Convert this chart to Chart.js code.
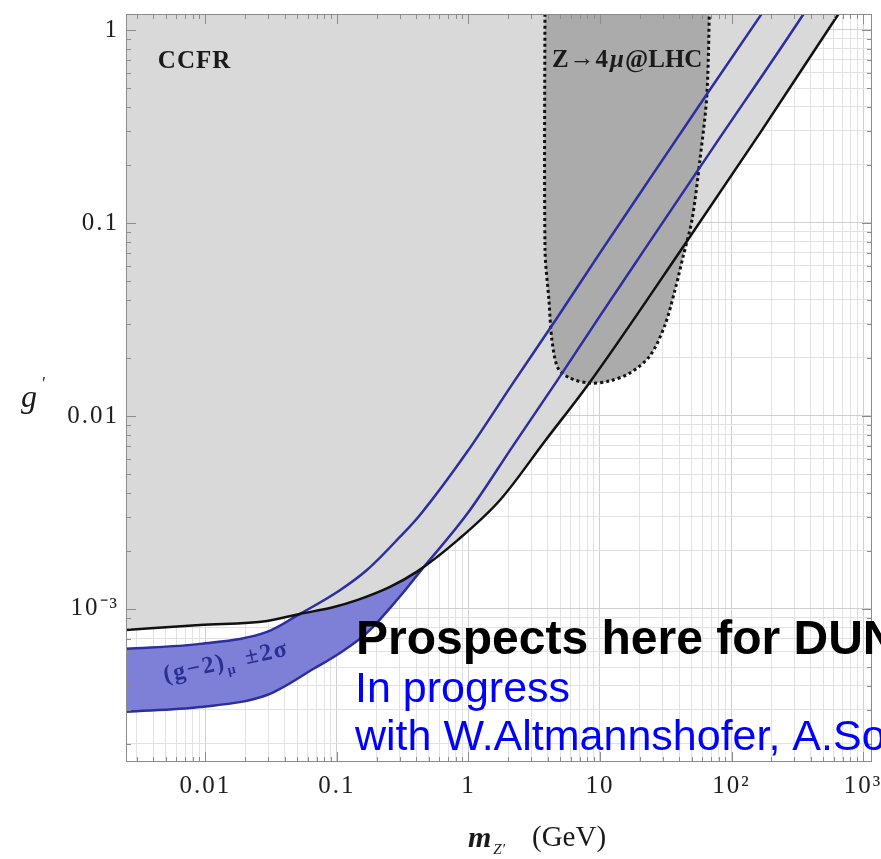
<!DOCTYPE html>
<html><head><meta charset="utf-8">
<script src="https://cdn.jsdelivr.net/npm/chart.js@4.4.1/dist/chart.umd.min.js"></script>
<style>html,body{margin:0;padding:0;background:#fff;}#wrap{width:881px;height:859px;}</style>
</head><body><div id="wrap"><canvas id="c" width="881" height="859"></canvas></div>
<script>
// ---- data (x = m_Z' in GeV, y = g') ----
const ccfrMass = [0.00249,0.00908,0.0294,0.0523,0.0933,0.142,0.253,0.406,0.832,1.74,3.82,8.40,42.8,165,645,720];
const ccfrG    = [7.78e-4,8.26e-4,8.67e-4,9.42e-4,1.02e-3,1.11e-3,1.30e-3,1.56e-3,2.28e-3,3.67e-3,7.42e-3,0.0150,0.0751,0.293,1.20,1.34];

const gm2UpperMass = [0.00249,0.00908,0.0294,0.0523,0.1054,0.169,0.301,0.428,0.975,2.18,4.71,10.0,21.2,65.1,165,185];
const gm2UpperG    = [6.21e-4,6.59e-4,7.60e-4,9.42e-4,1.25e-3,1.59e-3,2.36e-3,3.07e-3,6.50e-3,0.0148,0.0322,0.0700,0.150,0.466,1.18,1.32];
const gm2LowerMass = [0.00249,0.00908,0.0294,0.0680,0.1054,0.169,0.301,0.428,0.975,2.18,4.71,10.0,21.2,72.3,350,380];
const gm2LowerG    = [2.93e-4,3.10e-4,3.58e-4,4.94e-4,5.91e-4,7.51e-4,1.16e-3,1.56e-3,3.10e-3,7.00e-3,0.0152,0.0330,0.0708,0.245,1.20,1.31];

const lhcMass = [3.82,3.82,4.09,4.31,4.79,5.91,8.40,11.9,16.9,24.0,31.2,37.2,42.8,50.1,57.5,65.1,68.7];
const lhcG    = [2,0.0725,0.0399,0.0248,0.0177,0.0157,0.0148,0.0152,0.0167,0.0205,0.0296,0.0450,0.0667,0.104,0.212,0.472,2];

const xTickValues = [0.01,0.1,1,10,100,1000];
const xTickLabels = ['0.01','0.1','1','10','10\u00B2','10\u00B3'];
const yTickValues = [0.001,0.01,0.1,1];
const yTickLabels = ['10\u207B\u00B3','0.01','0.1','1'];

const xMin = 0.00249, xMax = 1170, yMin = 1.61e-4, yMax = 1.21;

// ---- helpers ----
const pts = (xs, ys) => xs.map((v, i) => ({x: v, y: ys[i]}));
const isDecade = v => Math.abs(Math.log10(v) - Math.round(Math.log10(v))) < 1e-6;
function allTicks(lo, hi) {
  const out = [];
  for (let e = Math.floor(Math.log10(lo)); e <= Math.ceil(Math.log10(hi)); e++)
    for (let m = 1; m <= 9; m++) {
      const v = +(m * Math.pow(10, e)).toPrecision(6);
      if (v >= lo && v <= hi) out.push(v);
    }
  return out;
}
function labelFor(v, vals, labs) {
  for (let i = 0; i < vals.length; i++) if (Math.abs(v / vals[i] - 1) < 1e-6) return labs[i];
  return '';
}

const SERIF = '"Liberation Serif", "Times New Roman", serif';
const SANS = '"Liberation Sans", Arial, sans-serif';

const spacing = {
  id: 'spacing',
  beforeDraw(chart) { chart.ctx.letterSpacing = '2px'; },
  beforeDatasetsDraw(chart) { chart.ctx.letterSpacing = '0px'; }
};

function runs(ctx, parts, x0, y0) {
  let x = x0;
  parts.forEach(p => {
    ctx.font = p.font;
    ctx.fillText(p.t, x, y0 + (p.dy || 0));
    x += ctx.measureText(p.t).width + (p.gap || 0);
  });
}

const annotations = {
  id: 'annotations',
  afterDatasetsDraw(chart) {
    const {ctx, scales: {x, y}} = chart;
    ctx.save();
    ctx.letterSpacing = '1px';
    ctx.fillStyle = '#1a1a1a';
    ctx.textBaseline = 'alphabetic';
    ctx.font = 'bold 25px ' + SERIF;
    ctx.fillText('CCFR', x.getPixelForValue(0.00435), y.getPixelForValue(0.635));
    ctx.letterSpacing = '0px';
    runs(ctx, [
      {t: 'Z', font: 'bold 25px ' + SERIF, gap: 1},
      {t: '\u2192', font: 'bold 25px ' + SERIF, dy: -1, gap: 1},
      {t: '4', font: 'bold 25px ' + SERIF, gap: 2},
      {t: '\u03BC', font: 'bold italic 25px ' + SERIF, gap: 1},
      {t: '@LHC', font: 'bold 25px ' + SERIF}
    ], x.getPixelForValue(4.31), y.getPixelForValue(0.643));
    // (g-2)_mu label, rotated
    ctx.save();
    ctx.translate(x.getPixelForValue(0.00492), y.getPixelForValue(4.18e-4));
    ctx.rotate(-12.2 * Math.PI / 180);
    ctx.fillStyle = '#2b2f95';
    ctx.letterSpacing = '2px';
    runs(ctx, [
      {t: '(g\u22122)', font: 'bold 24px ' + SERIF},
      {t: '\u03BC', font: 'bold 14px ' + SERIF, dy: 6, gap: 2},
      {t: ' \u00B12\u03C3', font: 'bold 24px ' + SERIF}
    ], 0, 0);
    ctx.restore();
    ctx.restore();
  },
  afterDraw(chart) {
    const {ctx, chartArea: {left, right, top, bottom}, scales: {x, y}} = chart;
    ctx.save();
    ctx.letterSpacing = '0px';
    // frame + inner ticks
    ctx.strokeStyle = '#8c8c8c';
    ctx.lineWidth = 1;
    ctx.strokeRect(left + 0.5, top + 0.5, right - left - 1, bottom - top - 1);
    ctx.beginPath();
    x.ticks.forEach(t => {
      const px = Math.round(x.getPixelForValue(t.value)) + 0.5;
      const L = isDecade(t.value) ? 10 : 5;
      ctx.moveTo(px, bottom); ctx.lineTo(px, bottom - L);
      ctx.moveTo(px, top); ctx.lineTo(px, top + L);
    });
    y.ticks.forEach(t => {
      const py = Math.round(y.getPixelForValue(t.value)) + 0.5;
      const L = isDecade(t.value) ? 10 : 5;
      ctx.moveTo(left, py); ctx.lineTo(left + L, py);
      ctx.moveTo(right, py); ctx.lineTo(right - L, py);
    });
    ctx.stroke();
    // axis titles
    ctx.fillStyle = '#1a1a1a';
    ctx.textBaseline = 'alphabetic';
    ctx.font = 'italic 32px ' + SERIF;
    ctx.fillText('g', 21, 407);
    ctx.font = '18px ' + SERIF;
    ctx.fillText('\u2032', 42, 390);
    runs(ctx, [
      {t: 'm', font: 'bold italic 30px ' + SERIF, gap: 2},
      {t: 'Z\u2032', font: 'italic 15px ' + SERIF, dy: 7}
    ], 468, 847);
    ctx.font = '29px ' + SERIF;
    ctx.fillText('(GeV)', 532, 846);
    // slide overlay text
    ctx.fillStyle = '#000';
    ctx.font = 'bold 48px ' + SANS;
    ctx.fillText('Prospects here for DUN', 356, 654);
    ctx.fillStyle = '#0000ff';
    ctx.font = '43px ' + SANS;
    ctx.fillText('In progress', 355, 702);
    ctx.fillText('with W.Altmannshofer, A.So', 355, 750);
    ctx.restore();
  }
};

const BAND = '#7d80d6';
new Chart(document.getElementById('c'), {
  type: 'line',
  data: {
    datasets: [
      { label: 'g-2 band', data: pts(gm2UpperMass, gm2UpperG), order: 6, fill: 4,
        cubicInterpolationMode: 'monotone', backgroundColor: BAND, borderWidth: 0, pointRadius: 0, clip: 0 },
      { label: 'CCFR', data: pts(ccfrMass, ccfrG), order: 5, fill: 'end', cubicInterpolationMode: 'monotone',
        backgroundColor: '#d9d9d9', borderWidth: 0, pointRadius: 0, clip: 0 },
      { label: 'Z4mu LHC', data: pts(lhcMass, lhcG), order: 4, fill: 'shape', tension: 0.3,
        backgroundColor: '#ababab', borderColor: '#111', borderWidth: 3, borderDash: [3, 3],
        pointRadius: 0, clip: 0 },
      { label: 'g-2 upper', data: pts(gm2UpperMass, gm2UpperG), order: 3, fill: false,
        cubicInterpolationMode: 'monotone', borderColor: '#2a2e9e', borderWidth: 2.5, pointRadius: 0, clip: 0 },
      { label: 'g-2 lower', data: pts(gm2LowerMass, gm2LowerG), order: 2, fill: false,
        cubicInterpolationMode: 'monotone', borderColor: '#2a2e9e', borderWidth: 2.5, pointRadius: 0, clip: 0 },
      { label: 'CCFR bound', data: pts(ccfrMass, ccfrG), order: 1, fill: false, cubicInterpolationMode: 'monotone',
        borderColor: '#111', borderWidth: 2.5, pointRadius: 0, clip: 0 }
    ]
  },
  options: {
    responsive: false,
    animation: false,
    layout: { padding: { left: 0, right: 9, top: 14, bottom: 0 } },
    plugins: { legend: { display: false }, tooltip: { enabled: false }, filler: { propagate: false } },
    scales: {
      x: {
        type: 'logarithmic', min: xMin, max: xMax,
        afterBuildTicks: s => { s.ticks = allTicks(xMin, xMax).map(v => ({value: v})); },
        afterFit: s => { s.height = 97; s.paddingLeft = 0; s.paddingRight = 0; },
        grid: { color: c => (c.tick && isDecade(c.tick.value)) ? '#d0d0d0' : '#e2e2e2', drawTicks: false, lineWidth: 1 },
        border: { display: false },
        ticks: { autoSkip: false, maxRotation: 0, minRotation: 0, padding: 9, color: '#1e1e1e',
          font: { family: SERIF, size: 25 },
          callback: v => labelFor(v, xTickValues, xTickLabels) }
      },
      y: {
        type: 'logarithmic', min: yMin, max: yMax,
        afterBuildTicks: s => { s.ticks = allTicks(yMin, yMax).map(v => ({value: v})); },
        afterFit: s => { s.width = 126; s.paddingTop = 0; s.paddingBottom = 0; },
        grid: { color: c => (c.tick && isDecade(c.tick.value)) ? '#d0d0d0' : '#e2e2e2', drawTicks: false, lineWidth: 1 },
        border: { display: false },
        ticks: { autoSkip: false, padding: 7, color: '#1e1e1e',
          font: { family: SERIF, size: 25 },
          callback: v => labelFor(v, yTickValues, yTickLabels) }
      }
    }
  },
  plugins: [spacing, annotations]
});
</script>
</body></html>
